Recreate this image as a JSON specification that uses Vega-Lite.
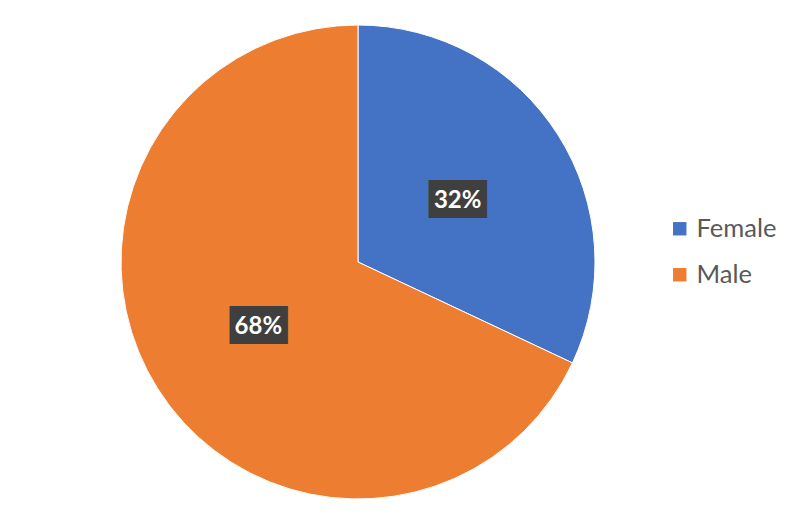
{
  "$schema": "https://vega.github.io/schema/vega-lite/v6.json",
  "autosize": {"type": "none"},
  "padding": {"left": 0, "top": 0, "right": 72, "bottom": 0},
  "width": 716,
  "height": 524,
  "background": "white",
  "config": {"view": {"stroke": null}},
  "data": {
    "values": [
      {"gender": "Female", "share": 32, "label": "32%", "order": 1},
      {"gender": "Male", "share": 68, "label": "68%", "order": 2}
    ]
  },
  "encoding": {
    "theta": {"field": "share", "type": "quantitative", "stack": true},
    "order": {"field": "order", "type": "quantitative"}
  },
  "layer": [
    {
      "mark": {"type": "arc", "outerRadius": 237, "stroke": "white", "strokeWidth": 1},
      "encoding": {
        "color": {
          "field": "gender",
          "type": "nominal",
          "scale": {"domain": ["Female", "Male"], "range": ["#4472C4", "#ED7D31"]},
          "legend": {
            "title": null,
            "orient": "none",
            "legendX": 667,
            "legendY": 216,
            "padding": 0,
            "symbolType": "square",
            "symbolSize": 180,
            "symbolStrokeWidth": 0,
            "labelFont": "Lato",
            "labelFontSize": 25.5,
            "labelColor": "#595959",
            "labelOffset": 4,
            "rowPadding": 19,
            "symbolOpacity": 1
          }
        }
      }
    },
    {
      "mark": {"type": "text", "radius": 118, "text": "███", "font": "DejaVu Sans Mono", "fontSize": 32, "color": "#3f3f3f", "baseline": "middle", "align": "center", "dy": 1}
    },
    {
      "mark": {"type": "text", "radius": 118, "font": "Lato", "fontWeight": "bold", "fontSize": 24, "color": "white", "baseline": "middle", "align": "center", "dy": 2},
      "encoding": {"text": {"field": "label", "type": "nominal"}}
    }
  ]
}
